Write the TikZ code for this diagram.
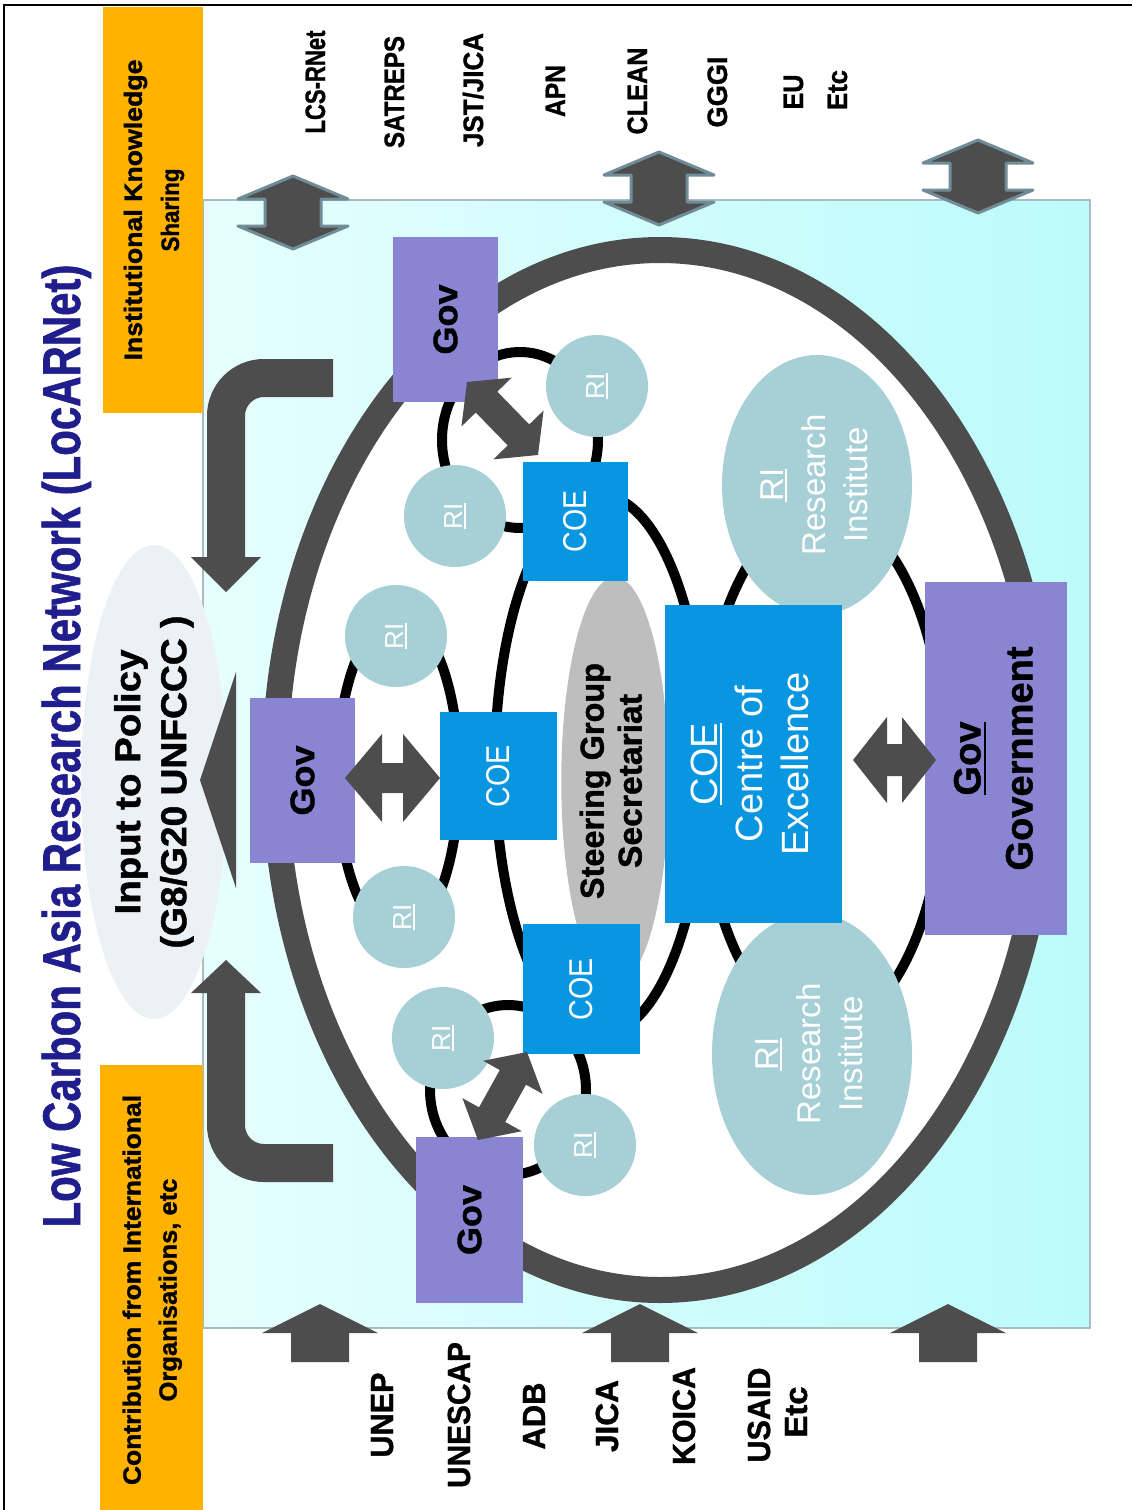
\documentclass[tikz,border=0pt]{standalone}
\usepackage{fontspec}
\setmainfont{Liberation Sans}
\newfontfamily\heavy[FakeBold=1.2]{Liberation Sans Bold}
\usepackage{graphicx}
\usetikzlibrary{calc,shapes.geometric}
\definecolor{navy}{RGB}{32,30,140}
\definecolor{orng}{RGB}{255,178,0}
\definecolor{govc}{RGB}{137,133,211}
\definecolor{coec}{RGB}{9,150,224}
\definecolor{ric}{RGB}{166,208,213}
\definecolor{sgc}{RGB}{190,190,190}
\definecolor{dk}{RGB}{77,77,77}
\definecolor{cyl}{RGB}{230,254,254}
\definecolor{cyr}{RGB}{188,251,251}
\definecolor{ovc}{RGB}{236,241,245}
\definecolor{stl}{RGB}{112,140,150}
\newcommand\fw[2]{\resizebox{#1pt}{\height}{#2}}
\newcommand\ulbox[3]{\setbox0=\hbox{#3}\rlap{\rule[-#1pt]{\wd0}{#2pt}}\box0}
\newcommand\dblarrow[6]{\fill[#6] (#1) -- ($(#1)!#3!(#2)!#4!90:(#2)$) -- ($(#1)!#3!(#2)!#5!90:(#2)$) -- ($(#2)!#3!(#1)!#5!-90:(#1)$) -- ($(#2)!#3!(#1)!#4!-90:(#1)$) -- (#2) -- ($(#2)!#3!(#1)!#4!90:(#1)$) -- ($(#2)!#3!(#1)!#5!90:(#1)$) -- ($(#1)!#3!(#2)!#5!-90:(#2)$) -- ($(#1)!#3!(#2)!#4!-90:(#2)$) -- cycle;}
\newcommand\sglarrow[6]{\fill[#6] ($(#1)!#5!90:(#2)$) -- ($(#2)!#3!(#1)!#5!-90:(#1)$) -- ($(#2)!#3!(#1)!#4!-90:(#1)$) -- (#2) -- ($(#2)!#3!(#1)!#4!90:(#1)$) -- ($(#2)!#3!(#1)!#5!90:(#1)$) -- ($(#1)!#5!-90:(#2)$) -- cycle;}
\tikzset{
  lbl/.style={rotate=90, anchor=base, inner sep=0pt, font=\fontsize{28}{30}\selectfont\heavy},
  lblb/.style={lbl, font=\fontsize{32}{34}\selectfont\heavy},
  govbox/.style={rectangle, fill=govc, rotate=90, inner sep=0pt, font=\fontsize{34}{40}\selectfont\heavy},
  coebox/.style={rectangle, fill=coec, rotate=90, inner sep=0pt, text=white, font=\fontsize{33}{40}\selectfont},
  ricirc/.style={circle, fill=ric, minimum size=102pt, inner sep=0pt, rotate=90, text=white, font=\fontsize{26}{30}\selectfont},
  bigri/.style={ellipse, fill=ric, rotate=90, inner sep=0pt, text=white, font=\fontsize{33}{42}\selectfont},
  loop/.style={draw=black, line width=10pt},
  orbox/.style={rectangle, fill=orng, rotate=90, inner sep=0pt},
}
\begin{document}
\begin{tikzpicture}[x=1pt,y=1pt]
\useasboundingbox (0,0) rectangle (1132,-1510);
\clip (0,0) rectangle (1132,-1510);
\fill[white] (0,0) rectangle (1132,-1510);

% background panel
\node[draw=stl!60, line width=1.5pt, left color=cyl, right color=cyr, minimum width=887pt, minimum height=1128pt, inner sep=0pt] (bg) at (646.5,-764) {};

% orange label boxes
\node[orbox, minimum width=406pt, minimum height=100pt, font=\fontsize{25}{37}\selectfont\heavy] (iks) at (153,-210)
  {\begin{tabular}{@{}c@{}}\fw{301}{Institutional Knowledge}\\\fw{83}{Sharing}\end{tabular}};
\node[orbox, minimum width=450pt, minimum height=103pt, font=\fontsize{25}{36}\selectfont\heavy] (cio) at (151.5,-1290)
  {\begin{tabular}{@{}c@{}}\fw{390}{Contribution from International}\\\fw{223}{Organisations, etc}\end{tabular}};

% title
\node[rotate=90, anchor=base, inner sep=0pt, text=navy, font=\fontsize{53}{60}\selectfont\heavy] (title) at (80,-746)
  {\fw{963}{Low Carbon Asia Research Network (LocARNet)}};

% input to policy oval
\node[ellipse, rotate=90, fill=ovc, minimum width=474pt, minimum height=146pt, inner sep=0pt, font=\fontsize{36}{46}\selectfont\heavy] (inp) at (154,-782)
  {\begin{tabular}{@{}c@{}}\fw{265}{Input to Policy}\\\fw{333}{(G8/G20 UNFCCC )}\end{tabular}};

% knowledge sharing double arrows (top)
\coordinate (v1a) at (293,-176); \coordinate (v1b) at (293,-249);
\coordinate (v2a) at (659,-152); \coordinate (v2b) at (659,-225);
\coordinate (v3a) at (978,-140); \coordinate (v3b) at (978,-213);
\dblarrow{v1a}{v1b}{23pt}{55pt}{28pt}{dk, draw=stl, line width=3pt, line join=round}
\dblarrow{v2a}{v2b}{23pt}{55pt}{28pt}{dk, draw=stl, line width=3pt, line join=round}
\dblarrow{v3a}{v3b}{23pt}{55pt}{28pt}{dk, draw=stl, line width=3pt, line join=round}

% contribution arrows (bottom)
\coordinate (u1a) at (320,-1362); \coordinate (u1b) at (320,-1304);
\coordinate (u2a) at (640,-1362); \coordinate (u2b) at (640,-1304);
\coordinate (u3a) at (948,-1362); \coordinate (u3b) at (948,-1304);
\sglarrow{u1a}{u1b}{29pt}{58pt}{29pt}{dk}
\sglarrow{u2a}{u2b}{29pt}{58pt}{29pt}{dk}
\sglarrow{u3a}{u3b}{29pt}{58pt}{29pt}{dk}

% curved arrows toward policy
\coordinate (ct1) at (333,-378); \coordinate (ct2) at (226,-378); \coordinate (ct3) at (226,-560); \coordinate (ct4) at (226,-592);
\draw[dk, line width=38pt, rounded corners=38pt] (ct1) -- (ct2) -- (ct3);
\fill[dk] (191,-557) -- (261,-557) -- (ct4) -- cycle;
\coordinate (cb1) at (333,-1163); \coordinate (cb2) at (226,-1163); \coordinate (cb3) at (226,-990); \coordinate (cb4) at (226,-960);
\draw[dk, line width=38pt, rounded corners=38pt] (cb1) -- (cb2) -- (cb3);
\fill[dk] (191,-993) -- (261,-993) -- (cb4) -- cycle;
\fill[dk] (236,-672) -- (236,-888) -- (200,-780) -- cycle;

% outer ring
\draw[dk, line width=26pt, fill=white] (660,-770) ellipse [x radius=385pt, y radius=520pt];

% black link loops
\draw[loop] (520,-440) ellipse [x radius=78pt, y radius=88pt];
\draw[loop] (508,-1090) ellipse [x radius=78pt, y radius=85pt];
\draw[loop] (398,-776) ellipse [x radius=61pt, y radius=160pt];
\draw[loop] (600,-765) ellipse [x radius=105pt, y radius=270pt];
\draw[loop] (823,-770) ellipse [x radius=122pt, y radius=260pt];

% steering group
\node[ellipse, rotate=90, fill=sgc, minimum width=408pt, minimum height=100pt, inner sep=0pt, font=\fontsize{33}{38}\selectfont\heavy] (sg) at (615,-781)
  {\begin{tabular}{@{}c@{}}\fw{236}{Steering Group}\\\fw{174}{Secretariat}\end{tabular}};

% research institutes
\node[ricirc] (ri1) at (597,-386) {\ulbox{3.5}{1.5}{RI}};
\node[ricirc] (ri2) at (455,-516) {\ulbox{3.5}{1.5}{RI}};
\node[ricirc] (ri3) at (396,-636) {\ulbox{3.5}{1.5}{RI}};
\node[ricirc] (ri4) at (404,-917) {\ulbox{3.5}{1.5}{RI}};
\node[ricirc] (ri5) at (443,-1038) {\ulbox{3.5}{1.5}{RI}};
\node[ricirc] (ri6) at (585,-1145) {\ulbox{3.5}{1.5}{RI}};
\node[bigri, minimum width=260pt, minimum height=190pt] (rit) at (817,-485)
  {\begin{tabular}{@{}c@{}}\ulbox{4}{2}{RI}\\Research\\Institute\end{tabular}};
\node[bigri, minimum width=282pt, minimum height=200pt] (rib) at (812,-1054)
  {\begin{tabular}{@{}c@{}}\ulbox{4}{2}{RI}\\Research\\Institute\end{tabular}};

% governments
\node[govbox, minimum width=165pt, minimum height=105pt] (govt) at (445.5,-319.5) {\fw{70}{Gov}};
\node[govbox, minimum width=165pt, minimum height=105pt] (govm) at (302.5,-780.5) {\fw{70}{Gov}};
\node[govbox, minimum width=166pt, minimum height=107pt] (govb) at (469.5,-1220) {\fw{70}{Gov}};
\node[govbox, minimum width=353pt, minimum height=142pt, font=\fontsize{38}{52}\selectfont\heavy] (govbig) at (996,-758.5)
  {\begin{tabular}{@{}c@{}}\ulbox{6}{2.5}{Gov}\\\fw{224}{Government}\end{tabular}};

% centres of excellence
\node[coebox, minimum width=119pt, minimum height=105pt] (coet) at (575.5,-521.5) {\fw{62}{COE}};
\node[coebox, minimum width=128pt, minimum height=117pt] (coem) at (498.5,-776) {\fw{62}{COE}};
\node[coebox, minimum width=130pt, minimum height=117pt] (coeb) at (581.5,-989) {\fw{62}{COE}};
\node[coebox, minimum width=318pt, minimum height=177pt, font=\fontsize{38}{45.5}\selectfont] (coebig) at (753.5,-764)
  {\begin{tabular}{@{}c@{}}\ulbox{5}{2.5}{COE}\\Centre of\\Excellence\end{tabular}};

% exchange arrows
\coordinate (hma) at (345,-778); \coordinate (hmb) at (440,-778);
\coordinate (hba) at (853,-760); \coordinate (hbb) at (936,-760);
\coordinate (dta) at (467,-382); \coordinate (dtb) at (538,-455);
\coordinate (dba) at (478,-1140); \coordinate (dbb) at (527,-1052);
\dblarrow{hma}{hmb}{37pt}{44pt}{15pt}{dk}
\dblarrow{hba}{hbb}{34pt}{43pt}{16pt}{dk}
\dblarrow{dta}{dtb}{28pt}{35pt}{15pt}{dk}
\dblarrow{dba}{dbb}{29pt}{34pt}{15pt}{dk}

% partner labels (top)
\node[lbl] (p1) at (325,-82) {\fw{103}{LCS-RNet}};
\node[lbl] (p2) at (404,-92) {\fw{112}{SATREPS}};
\node[lbl] (p3) at (483,-90) {\fw{114}{JST/JICA}};
\node[lbl] (p4) at (565,-91) {\fw{52}{APN}};
\node[lbl] (p5) at (647,-91) {\fw{87}{CLEAN}};
\node[lbl] (p6) at (727,-92) {\fw{71}{GGGI}};
\node[lbl] (p7) at (803,-92) {\fw{35}{EU}};
\node[lbl] (p8) at (847,-90) {\fw{40}{Etc}};

% donor labels (bottom)
\node[lblb] (d1) at (393,-1415) {\fw{85}{UNEP}};
\node[lblb] (d2) at (470,-1415) {\fw{146}{UNESCAP}};
\node[lblb] (d3) at (545,-1416) {\fw{67}{ADB}};
\node[lblb] (d4) at (618,-1416) {\fw{72}{JICA}};
\node[lblb] (d5) at (695,-1416) {\fw{98}{KOICA}};
\node[lblb] (d6) at (770,-1415) {\fw{95}{USAID}};
\node[lblb] (d7) at (807,-1412) {\fw{51}{Etc}};

% frame
\draw[line width=1.5pt] (4,-1600) -- (4,-5) -- (1200,-5);
\end{tikzpicture}
\end{document}
